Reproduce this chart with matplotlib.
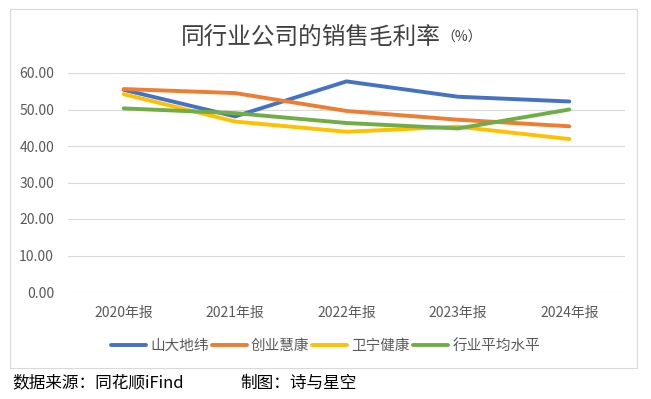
import matplotlib.pyplot as plt
from matplotlib.patches import Rectangle

plt.rcParams['font.family'] = ['Noto Sans CJK SC', 'DejaVu Sans']

# 数据
years = ['2020年报', '2021年报', '2022年报', '2023年报', '2024年报']
shanda = [55.4, 48.1, 57.7, 53.5, 52.2]
chuangye = [55.6, 54.5, 49.6, 47.2, 45.4]
weining = [54.2, 46.7, 43.9, 45.3, 41.9]
industry = [50.3, 49.0, 46.3, 44.8, 50.0]

series_names = ['山大地纬', '创业慧康', '卫宁健康', '行业平均水平']
colors = ['#4472C4', '#ED7D31', '#FFC000', '#70AD47']

W, H = 651, 399
fig = plt.figure(figsize=(W / 100, H / 100), dpi=100)

# chart border
fig.patches.append(Rectangle((10 / W, 1 - 368 / H), 627 / W, 359 / H,
                             transform=fig.transFigure, fill=False,
                             edgecolor='#D9D9D9', linewidth=0.8))

ax = fig.add_axes([68 / W, 1 - 292 / H, 557 / W, 219 / H])
x = range(len(years))
for vals, name, c in zip([shanda, chuangye, weining, industry], series_names, colors):
    ax.plot(x, vals, color=c, linewidth=2.8, label=name, solid_capstyle='round')

ax.set_xlim(-0.5, len(years) - 0.5)
ax.set_ylim(0, 60)
ax.set_yticks(range(0, 61, 10))
ax.set_yticklabels([f'{v:.2f}' for v in range(0, 61, 10)])
ax.set_xticks(list(x))
ax.set_xticklabels(years)
ax.grid(axis='y', color='#D9D9D9', linewidth=0.8)
ax.set_axisbelow(True)
for s in ax.spines.values():
    s.set_visible(False)
ax.tick_params(axis='both', length=0, labelsize=10, colors='#595959')
ax.tick_params(axis='y', pad=10)
ax.tick_params(axis='x', pad=10)

# title
fig.text(181 / W, 1 - 37 / H, '同行业公司的销售毛利率', fontsize=17,
         color='#404040', fontweight='medium', ha='left', va='center')
fig.text(441 / W, 1 - 38 / H, '（%）', fontsize=10,
         color='#404040', ha='left', va='center')

fig.legend(loc='center', bbox_to_anchor=(0.5, 1 - 346 / H), ncol=4,
           frameon=False, fontsize=10.5, handlelength=2.4, handletextpad=0.3,
           columnspacing=0.2, labelcolor='#595959')

fig.text(12 / W, 1 - 383 / H, '数据来源：同花顺iFind', fontsize=12,
         color='black', ha='left', va='center')
fig.text(240 / W, 1 - 383 / H, '制图：诗与星空', fontsize=12,
         color='black', ha='left', va='center')

fig.savefig('out.png', dpi=100, facecolor='white')
